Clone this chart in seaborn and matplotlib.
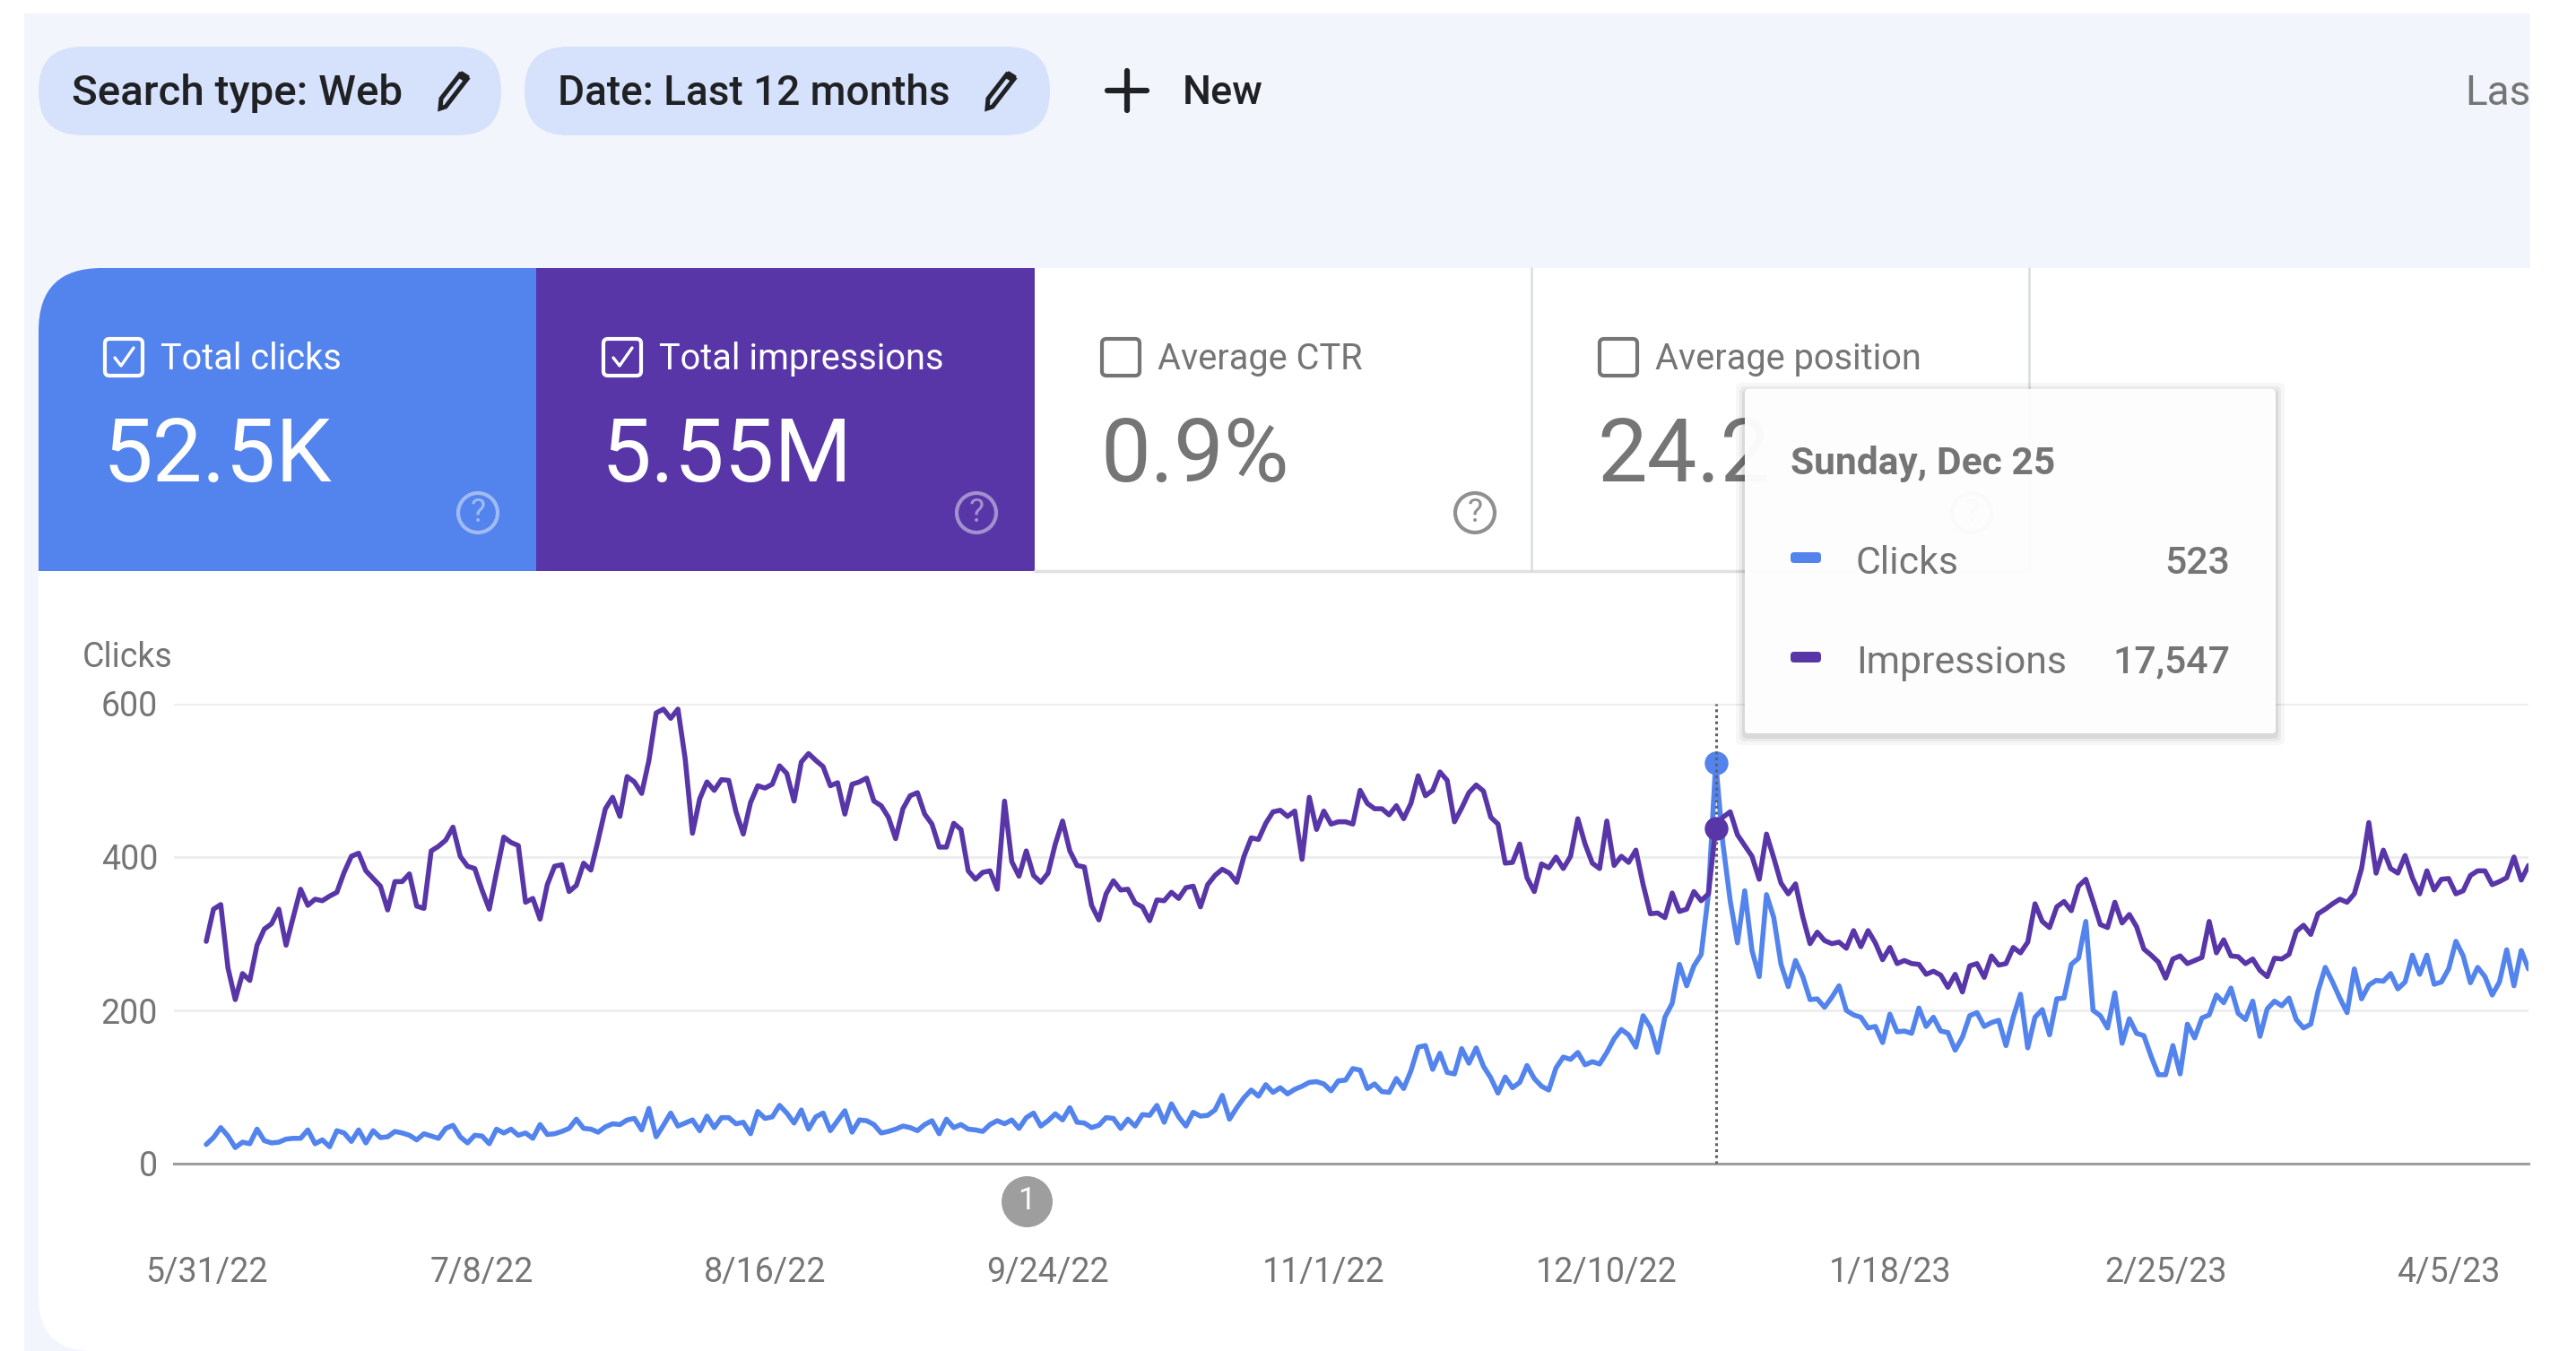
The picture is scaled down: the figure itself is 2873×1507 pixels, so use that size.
import pandas as pd
import matplotlib
matplotlib.use("Agg")
import matplotlib.pyplot as plt
import seaborn as sns
from matplotlib.patches import Circle, FancyBboxPatch, PathPatch, Polygon, Rectangle
from matplotlib.path import Path

# Daily clicks
clicks = [
    25, 34, 47, 36, 21, 28, 26, 45, 30, 27, 28, 32, 33, 33, 44, 26, 31, 22, 43, 40,
    29, 44, 27, 43, 34, 35, 42, 40, 37, 31, 39, 36, 33, 46, 50, 35, 27, 37, 36, 26,
    45, 40, 45, 37, 40, 33, 51, 38, 39, 42, 46, 58, 46, 45, 41, 48, 52, 51, 57, 59,
    44, 72, 35, 50, 66, 49, 53, 57, 43, 62, 47, 60, 60, 52, 54, 39, 68,
    59, 61, 76, 66, 53, 70, 45, 61, 66, 43, 56, 69, 41, 57, 56, 51, 40, 42, 45, 49,
    47, 43, 51, 56, 39, 58, 47, 51, 45, 44, 42, 51, 56, 52, 57, 46, 60, 66, 49, 56,
    65, 57, 73, 54, 53, 47, 50, 60, 59, 46, 58, 49, 64, 63, 76, 54, 78, 61, 49, 67,
    62, 63, 70, 89, 58, 73, 86, 96, 88, 103, 93, 99, 91, 97, 101, 106, 107, 104, 95,
    108, 109, 124, 122, 98, 104, 94, 93,
    111, 98, 121, 152, 154, 123, 144, 119, 117, 150, 131, 151, 127, 112, 92, 113, 99,
    106, 128, 111, 101, 96, 125, 139, 136, 145, 129, 133, 130, 145, 163, 175, 168,
    152, 193, 178, 145, 191, 209, 260, 232, 258, 273, 352, 523, 417, 343, 288, 356,
    278, 244, 351, 321, 260, 231, 265, 244, 214, 215, 204, 217, 232, 200, 194, 191,
    177, 179, 158, 195, 172, 173, 170, 203, 179, 191, 173, 171, 148, 165, 193, 197,
    179, 184, 187, 154, 191,
    221, 151, 191, 201, 168, 215, 216, 260, 268, 316, 200, 193, 177, 223, 157, 189,
    170, 167, 140, 116, 116, 154, 117, 182, 164, 190, 194, 220, 210, 229, 196, 188,
    212, 166, 202, 212, 206, 216, 188, 177, 182, 225, 256, 237, 216, 197, 254, 215,
    233, 239, 238, 248, 228, 237, 272, 247, 272, 234, 237, 254, 290, 271, 236, 256,
    244, 220, 237, 279, 232, 278, 254,
]

# Impressions have their own hidden scale in the report (40 impressions per click
# tick), so these are read against the same 0-600 ticks as clicks
impressions_on_axis = [
    290, 332, 338, 255, 214, 248, 239, 285, 306, 313, 332, 285, 322, 358, 337, 345,
    343, 349, 354, 380, 401, 405, 382, 372, 362, 331, 368, 368, 378, 336, 333, 408,
    414, 422, 439, 401, 388, 385, 357, 332, 380, 426, 419, 415, 341, 346, 319, 364,
    388, 390, 355, 363, 392, 383, 422, 463, 478, 453, 505, 498, 483, 526, 588, 593,
    581, 593, 528, 431, 476, 498, 487, 501, 500, 459, 430, 471, 493,
    490, 495, 519, 509, 473, 524, 535, 526, 518, 493, 497, 456, 495, 498, 503, 473,
    467, 452, 424, 463, 480, 484, 456, 443, 413, 413, 444, 436, 382, 371, 380, 382,
    358, 473, 394, 375, 408, 376, 367, 379, 417, 447, 408, 389, 387, 337, 318, 352,
    369, 357, 358, 340, 335, 317, 344, 343, 354, 346, 360, 362, 335, 364, 376, 384,
    379, 367, 401, 425, 423, 444, 459, 461, 453, 460, 397, 478, 436, 460, 443, 446,
    446, 443, 487, 470, 463, 463, 455,
    467, 450, 470, 506, 480, 487, 511, 500, 446, 464, 484, 494, 486, 452, 443, 392,
    393, 417, 373, 355, 391, 386, 400, 385, 401, 450, 417, 392, 385, 447, 389, 401,
    393, 409, 364, 326, 327, 321, 353, 329, 332, 355, 343, 352, 438, 452, 459, 429,
    415, 401, 371, 430, 399, 366, 352, 365, 322, 287, 302, 291, 287, 289, 281, 304,
    283, 304, 288, 266, 282, 261, 265, 261, 260, 247, 251, 246, 230, 247, 224, 258,
    261, 243, 271, 259, 261, 282,
    275, 289, 339, 316, 308, 335, 342, 330, 362, 371, 342, 312, 308, 341, 314, 325,
    309, 280, 272, 263, 242, 267, 271, 261, 265, 269, 316, 275, 292, 271, 270, 261,
    267, 252, 244, 268, 267, 273, 303, 311, 299, 326, 332, 339, 345, 341, 352, 385,
    445, 379, 409, 385, 379, 402, 373, 352, 382, 357, 371, 372, 352, 356, 376, 382,
    382, 364, 368, 373, 400, 370, 389,
]

start_date = "2022-05-31"
y_ticks = [0, 200, 400, 600]
tick_dates = ["2022-05-31", "2022-07-08", "2022-08-16", "2022-09-24", "2022-11-01",
              "2022-12-10", "2023-01-18", "2023-02-25", "2023-04-05"]
tick_labels = ["5/31/22", "7/8/22", "8/16/22", "9/24/22", "11/1/22",
               "12/10/22", "1/18/23", "2/25/23", "4/5/23"]
hover_date = "2022-12-25"
annotation_date = "2022-09-21"

BLUE = "#5383EC"
PURPLE = "#5836A8"
GREY = "#757575"
DARK = "#202124"

dates = pd.date_range(start_date, periods=len(clicks), freq="D")
df = pd.DataFrame({
    "date": list(dates) * 2,
    "value": clicks + impressions_on_axis,
    "metric": ["Clicks"] * len(clicks) + ["Impressions"] * len(impressions_on_axis),
})

sns.set_theme(style="white")
plt.rcParams["font.family"] = ["Roboto", "DejaVu Sans"]

W, H = 2873, 1507
fig = plt.figure(figsize=(W / 100, H / 100), dpi=100)


def pixel_axes(zorder):
    a = fig.add_axes([0, 0, 1, 1], zorder=zorder)
    a.set_xlim(0, W)
    a.set_ylim(H, 0)
    a.axis("off")
    return a


def rounded_shape(x0, y0, x1, y1, top_r, bottom_r):
    verts = [(x0 + top_r, y0), (x1, y0), (x1, y1), (x0 + bottom_r, y1),
             (x0, y1), (x0, y1 - bottom_r), (x0, y0 + top_r), (x0, y0), (x0 + top_r, y0)]
    codes = [Path.MOVETO, Path.LINETO, Path.LINETO, Path.LINETO,
             Path.CURVE3, Path.CURVE3, Path.LINETO, Path.CURVE3, Path.CURVE3]
    return Path(verts, codes)


def checkbox(a, x, colour, checked):
    a.add_patch(FancyBboxPatch((x, 378), 42, 41, boxstyle="round,pad=0,rounding_size=5",
                               fc="none", ec=colour, lw=3))
    if checked:
        a.plot([x + 11, x + 18, x + 32], [399, 408, 388], color=colour, lw=2.4)


def help_icon(a, x, colour, alpha=1.0):
    a.add_patch(Circle((x, 572), 22, fc="none", ec=colour, lw=3, alpha=alpha))
    a.text(x, 572, "?", color=colour, fontsize=26, ha="center", va="center", alpha=alpha)


def pencil(a, cx, cy):
    a.add_patch(Polygon([(cx - 9, cy + 18), (cx - 15, cy + 20), (cx - 14, cy + 9),
                         (cx + 7, cy - 18), (cx + 15, cy - 13)],
                        closed=True, fc="none", ec=DARK, lw=3.6))
    a.add_patch(Polygon([(cx + 5, cy - 15), (cx + 9, cy - 21), (cx + 17, cy - 16), (cx + 13, cy - 10)],
                        closed=True, fc=DARK, ec=DARK, lw=1))


# Page behind the chart
ui = pixel_axes(0)
ui.add_patch(Rectangle((27, 15), 2795, H - 15, fc="#F2F5FB", ec="none"))
ui.add_patch(PathPatch(rounded_shape(43, 299, 2822, H, 70, 60), fc="white", ec="none"))

for x0, x1, label, cx, size in [(43, 559, "Search type: Web", 506, 34.2),
                                (585, 1171, "Date: Last 12 months", 1116, 33)]:
    ui.add_patch(FancyBboxPatch((x0, 52), x1 - x0, 99, boxstyle="round,pad=0,rounding_size=49",
                                fc="#D6E2FB", ec="none"))
    ui.text(x0 + 37, 104, label, color=DARK, fontsize=size, weight=500, ha="left", va="center")
    pencil(ui, cx, 101)

ui.plot([1235, 1279], [101, 101], color=DARK, lw=4.5)
ui.plot([1257, 1257], [79, 123], color=DARK, lw=4.5)
ui.text(1319, 104, "New", color=DARK, fontsize=32.5, weight=500, ha="left", va="center")
ui.text(2749, 104, "Las", color=GREY, fontsize=33, ha="left", va="center")

# Metric tabs
ui.add_patch(PathPatch(rounded_shape(43, 299, 598, 637, 70, 0), fc=BLUE, ec="none"))
ui.add_patch(Rectangle((598, 299), 556, 338, fc=PURPLE, ec="none"))
ui.plot([1154, 2263], [637, 637], color="#E0E0E0", lw=2.5)
for x in [1708, 2263]:
    ui.plot([x, x], [299, 637], color="#DADCE0", lw=1.8)

for x, label, value, colour, checked in [
    (117, "Total clicks", "52.5K", "white", True),
    (673, "Total impressions", "5.55M", "white", True),
    (1229, "Average CTR", "0.9%", GREY, False),
    (1784, "Average position", "24.2", GREY, False),
]:
    checkbox(ui, x, colour, checked)
    ui.text(x + 62, 400, label, color=colour, fontsize=28.6, ha="left", va="center")
    ui.text(x - 2, 510, value, color=colour, fontsize=71.5, ha="left", va="center")

help_icon(ui, 533, "white", 0.45)
help_icon(ui, 1089, "white", 0.45)
help_icon(ui, 1645, GREY, 0.8)
help_icon(ui, 2199, GREY, 0.8)

ui.text(92, 734, "Clicks", color=GREY, fontsize=27, ha="left", va="center")

# Chart
ax = fig.add_axes([194 / W, 1 - 1298 / H, (2820 - 194) / W, (1298 - 785) / H], zorder=1)
ax.patch.set_alpha(0)
sns.lineplot(data=df, x="date", y="value", hue="metric", palette=[BLUE, PURPLE],
             hue_order=["Clicks", "Impressions"], linewidth=4.0, legend=False, ax=ax,
             estimator=None, zorder=3)
ax.set_ylim(0, 600)
ax.set_xlim(dates[0] - pd.Timedelta(days=4.45), dates[-1])
ax.set_yticks(y_ticks)
ax.set_xticks(pd.to_datetime(tick_dates))
ax.set_xticklabels(tick_labels)
ax.set_xlabel("")
ax.set_ylabel("")
ax.grid(axis="y", color="#EEEEEE", lw=2.2)
ax.grid(axis="x", visible=False)
ax.set_axisbelow(True)
sns.despine(ax=ax, left=True)
ax.spines["bottom"].set_color("#9E9E9E")
ax.spines["bottom"].set_linewidth(2.2)
ax.tick_params(axis="y", length=0, pad=13, labelsize=27, labelcolor=GREY)
ax.tick_params(axis="x", length=0, pad=74, labelsize=27, labelcolor=GREY)

# Hovered day
hover = pd.Timestamp(hover_date)
hover_clicks = clicks[(hover - dates[0]).days]
hover_impressions = impressions_on_axis[(hover - dates[0]).days]
ax.plot([hover], [hover_clicks], marker="o", color=BLUE, ms=18, zorder=4)
ax.axvline(hover, color="#616161", lw=2.2, ls=(0, (1, 1.2)), zorder=5)
ax.plot([hover], [hover_impressions], marker="o", color=PURPLE, ms=18, zorder=6)

# Annotation badge under the axis
marker = pd.Timestamp(annotation_date)
ax.plot([marker], [-49], marker="o", color="#9E9E9E", ms=40, clip_on=False, zorder=4)
ax.text(marker, -49, "1", color="white", fontsize=25, ha="center", va="center", clip_on=False, zorder=5)

# Tooltip above everything
top = pixel_axes(2)
for grow, alpha in [(10, 0.03), (6, 0.05), (3, 0.07)]:
    top.add_patch(FancyBboxPatch((1946 - grow, 434 - grow + 3), 592 + 2 * grow, 384 + 2 * grow,
                                 boxstyle="round,pad=0,rounding_size=6", fc="black", ec="none", alpha=alpha))
top.add_patch(FancyBboxPatch((1946, 434), 592, 384, boxstyle="round,pad=0,rounding_size=4",
                             fc="white", ec="none", alpha=0.97))
top.text(1997, 517, "Sunday, Dec 25", color=GREY, fontsize=30.6, weight="bold", ha="left", va="center")
for y, colour, name, value in [(622, BLUE, "Clicks", "523"), (733, PURPLE, "Impressions", "17,547")]:
    top.add_patch(FancyBboxPatch((1997, y - 6), 34, 12, boxstyle="round,pad=0,rounding_size=4", fc=colour, ec="none"))
    top.text(2070, y + 6, name, color=GREY, fontsize=30.8, ha="left", va="center")
    top.text(2487, y + 6, value, color=GREY, fontsize=30.8, weight=500, ha="right", va="center")

fig.savefig("out.png", dpi=100)
